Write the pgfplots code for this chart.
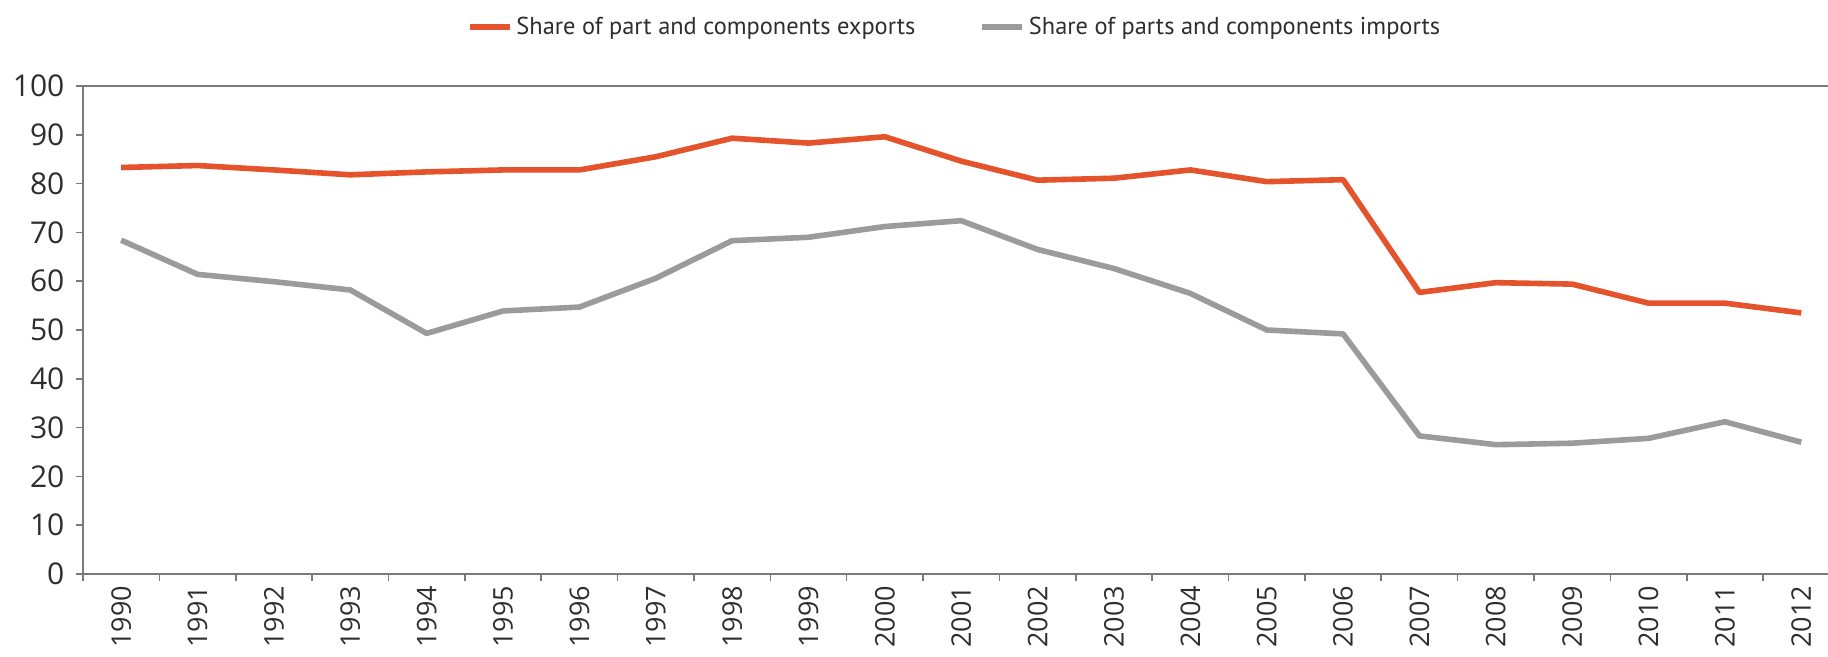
\documentclass[border=0pt]{standalone}
\usepackage{fontspec}
\setmainfont{Open Sans}
\newfontfamily\legfont{PT Sans}
\usepackage{pgfplots}
\pgfplotsset{compat=1.18}
\definecolor{expred}{HTML}{E4532B}
\definecolor{impgray}{HTML}{9B9B9B}
\definecolor{axgray}{HTML}{7A7A7A}
\definecolor{txt}{HTML}{2E2E2E}
\begin{document}
\begin{tikzpicture}
\begin{axis}[
  name=ax,
  scale only axis,
  width=872.5pt, height=244pt,
  xmin=-0.5, xmax=22.35,
  ymin=0, ymax=100,
  axis x line*=bottom, axis y line*=left,
  axis line style={draw=axgray, line width=0.8pt},
  tick align=outside,
  major tick length=3.5pt,
  tick style={draw=axgray, line width=0.8pt},
  /pgf/number format/assume math mode=true,
  ytick={0,10,...,90},
  extra y ticks={100},
  extra y tick style={grid=major, major grid style={draw=axgray, line width=0.8pt}},
  yticklabel style={font=\fontsize{15}{15}\selectfont, text=txt},
  yticklabel shift=2.3pt,
  xtick={-0.5,0.5,...,21.5},
  xticklabels={},
  extra x ticks={0,1,...,22},
  extra x tick labels={1990,1991,1992,1993,1994,1995,1996,1997,1998,1999,2000,2001,2002,2003,2004,2005,2006,2007,2008,2009,2010,2011,2012},
  extra x tick style={major tick length=0pt, xticklabel shift=2.5pt, xticklabel style={rotate=90, anchor=east, font=\fontsize{13.5}{13.5}\selectfont, text=txt}},
  legend style={at={(0.5,1.121)}, anchor=center, draw=none, fill=none,
    font=\legfont\fontsize{12.2}{13}\selectfont, text=txt,
    legend columns=2, /tikz/every even column/.append style={column sep=30pt}},
  legend image code/.code={\draw[#1, line width=2.8pt] (0pt,0pt) -- (20pt,0pt);},
]
\addplot[expred, line width=2.8pt, line join=round] coordinates {
(0,83.3) (1,83.7) (2,82.8) (3,81.8) (4,82.4) (5,82.8) (6,82.8) (7,85.5)
(8,89.3) (9,88.3) (10,89.6) (11,84.6) (12,80.7) (13,81.1) (14,82.8)
(15,80.4) (16,80.8) (17,57.7) (18,59.7) (19,59.4) (20,55.5) (21,55.5) (22,53.5)};
\addlegendentry{Share of part and components exports}
\addplot[impgray, line width=2.8pt, line join=round] coordinates {
(0,68.4) (1,61.4) (2,59.9) (3,58.2) (4,49.3) (5,53.9) (6,54.7) (7,60.6)
(8,68.3) (9,69.0) (10,71.2) (11,72.4) (12,66.5) (13,62.6) (14,57.5)
(15,50.0) (16,49.2) (17,28.3) (18,26.5) (19,26.8) (20,27.8) (21,31.2) (22,27.0)};
\addlegendentry{Share of parts and components imports}
\end{axis}
\pgfresetboundingbox
\path[use as bounding box] ([shift={(-41.5pt,-41.5pt)}]ax.south west) rectangle ([shift={(0pt,43pt)}]ax.north east);
\end{tikzpicture}
\end{document}
